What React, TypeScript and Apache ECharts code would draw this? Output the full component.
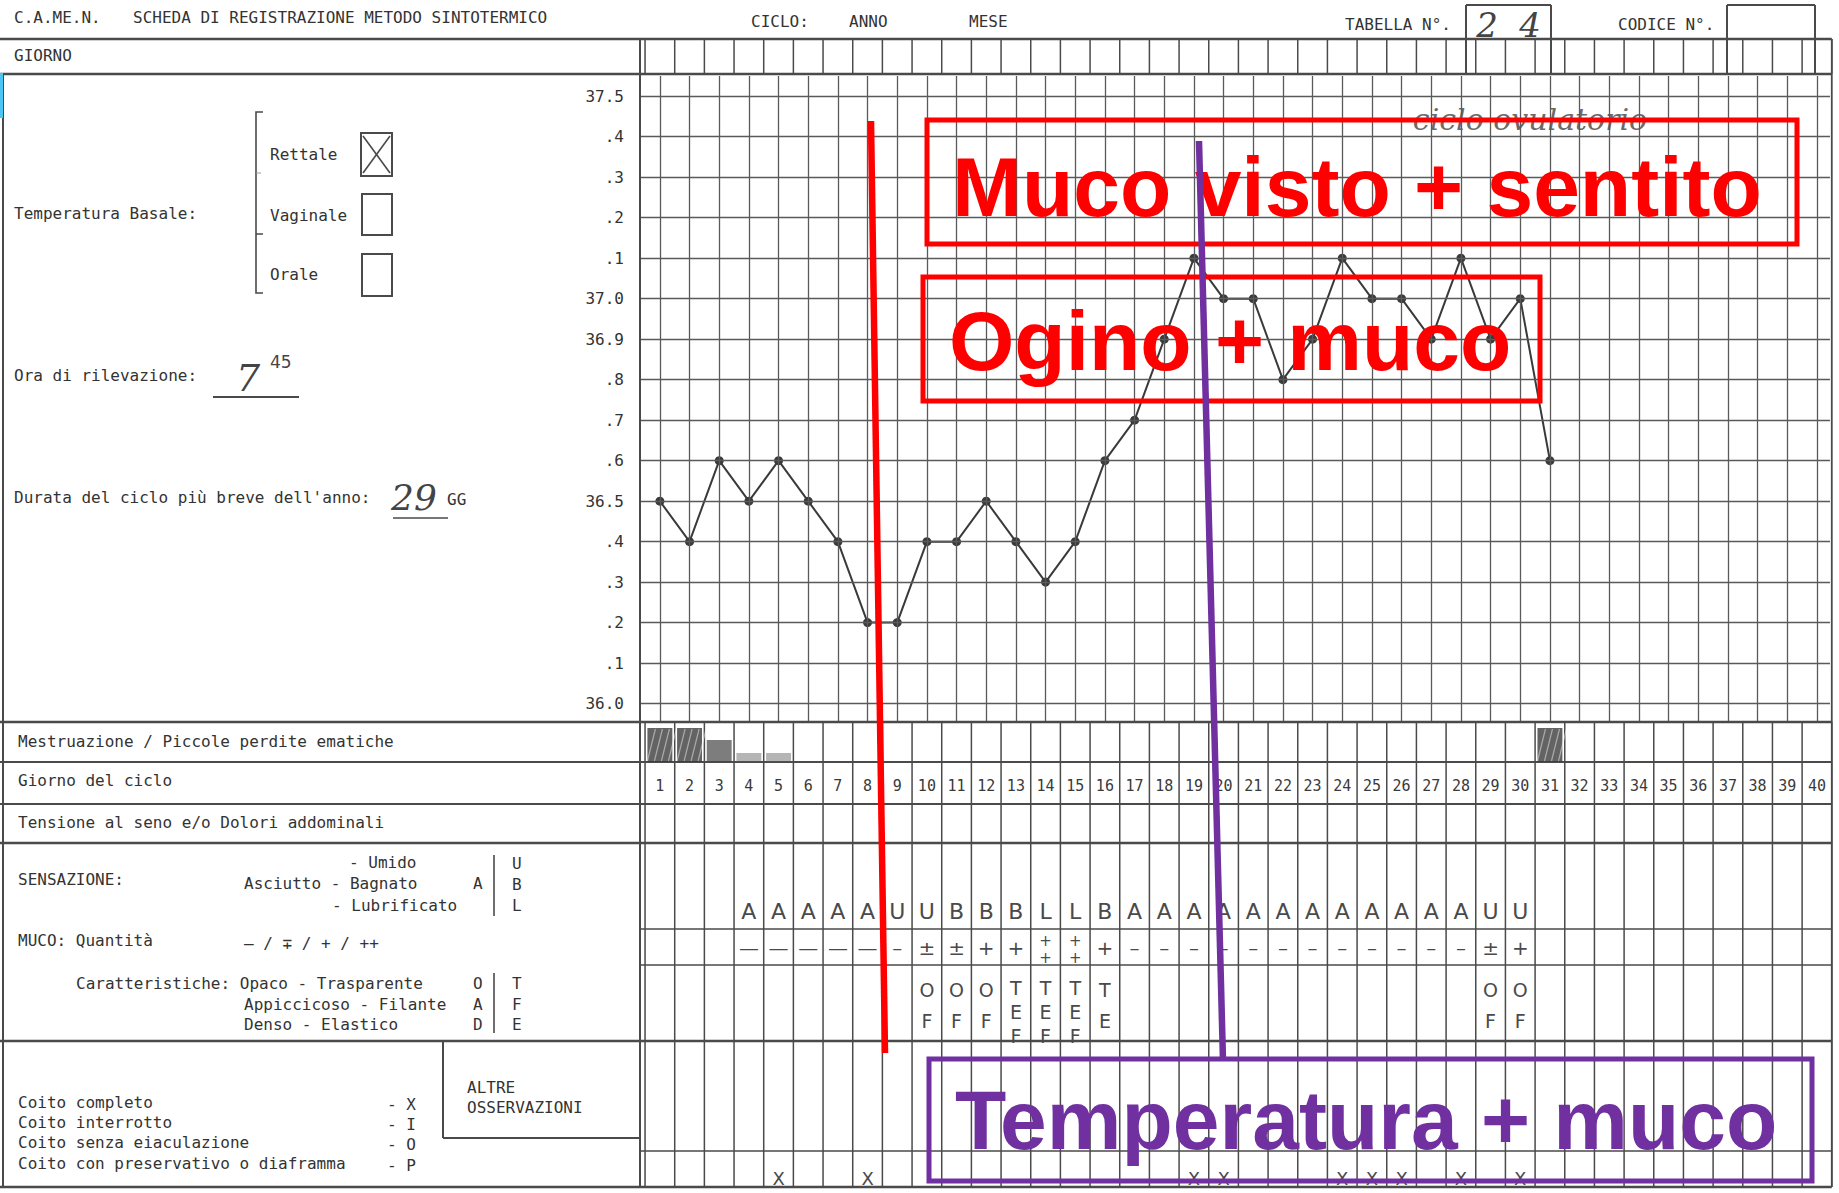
import React, { useEffect, useRef } from "react";
import * as echarts from "echarts";

// ---------- DATA ----------
const days = [1, 2, 3, 4, 5, 6, 7, 8, 9, 10, 11, 12, 13, 14, 15, 16, 17, 18, 19, 20,
  21, 22, 23, 24, 25, 26, 27, 28, 29, 30, 31, 32, 33, 34, 35, 36, 37, 38, 39, 40];

const temperatures = [36.5, 36.4, 36.6, 36.5, 36.6, 36.5, 36.4, 36.2, 36.2, 36.4,
  36.4, 36.5, 36.4, 36.3, 36.4, 36.6, 36.7, 36.9, 37.1, 37.0,
  37.0, 36.8, 36.9, 37.1, 37.0, 37.0, 36.9, 37.1, 36.9, 37.0, 36.6];

const tempTicks = [36.0, 36.1, 36.2, 36.3, 36.4, 36.5, 36.6, 36.7, 36.8, 36.9,
  37.0, 37.1, 37.2, 37.3, 37.4, 37.5];
const tempTickLabels = ["36.0", ".1", ".2", ".3", ".4", "36.5", ".6", ".7", ".8", "36.9",
  "37.0", ".1", ".2", ".3", ".4", "37.5"];

const menstruationDays = [1, 2, 3, 4, 5, 31];
const menstruationLevel = [3, 3, 2, 1, 1, 3];

const sensationDays = [4, 5, 6, 7, 8, 9, 10, 11, 12, 13, 14, 15, 16, 17, 18, 19, 20,
  21, 22, 23, 24, 25, 26, 27, 28, 29, 30];
const sensationValues = ["A", "A", "A", "A", "A", "U", "U", "B", "B", "B", "L", "L", "B",
  "A", "A", "A", "A", "A", "A", "A", "A", "A", "A", "A", "A", "U", "U"];
const quantityValues = ["—", "—", "—", "—", "—", "–", "±", "±", "+", "+", "++", "++", "+",
  "–", "–", "–", "–", "–", "–", "–", "–", "–", "–", "–", "–", "±", "+"];

const characteristicDays = [10, 11, 12, 13, 14, 15, 16, 29, 30];
const characteristicValues = ["OF", "OF", "OF", "TEF", "TEF", "TEF", "TE", "OF", "OF"];

const coitoDays = [5, 8, 19, 20, 24, 25, 26, 28, 30];
const coitoValues = ["X", "X", "X", "X", "X", "X", "X", "X", "X"];

// ---------- STYLE ----------
const MONO = '"DejaVu Sans Mono", monospace';
const SANS = '"DejaVu Sans", sans-serif';
const HAND = '"DejaVu Serif", serif';
const BOLD = '"Liberation Sans", Arial, sans-serif';
const INK = "#333333";
const RULE = "#4a4a4a";
const RED = "#ff0000";
const PURPLE = "#7030a0";

export default function App() {
  const ref = useRef<HTMLDivElement>(null);

  useEffect(() => {
    document.body.style.margin = "0";
    const chart = echarts.init(ref.current as HTMLDivElement, null, { renderer: "svg" });

    chart.setOption({
      animation: false,
      backgroundColor: "#ffffff",
      grid: { left: 640, top: 76, width: 1190, height: 645, show: false },
      xAxis: { type: "value", min: 0.33, max: 40.44, show: false },
      yAxis: { type: "value", min: 35.957, max: 37.55, show: false },
      series: [
        {
          type: "line",
          name: "griglia",
          data: [],
          z: 1,
          silent: true,
          markLine: {
            silent: true,
            symbol: ["none", "none"],
            label: { show: false },
            emphasis: { disabled: true },
            lineStyle: { color: "#5a5a5a", width: 1.3, type: "solid" },
            data: [
              ...tempTicks.map((v) => ({ yAxis: v })),
              ...days.map((d) => ({ xAxis: d })),
            ],
          },
        },
        {
          type: "line",
          name: "Temperatura",
          data: temperatures.map((t, i) => [days[i], t]),
          z: 3,
          symbol: "circle",
          symbolSize: 9,
          lineStyle: { color: "#3a3a3a", width: 2 },
          itemStyle: { color: "#3a3a3a" },
        },
      ],
    });

    const px = (d: number) => (chart.convertToPixel({ gridIndex: 0 }, [d, 36.5]) as number[])[0];
    const py = (v: number) => (chart.convertToPixel({ gridIndex: 0 }, [1, v]) as number[])[1];

    const g: any[] = [];
    const T = (x: number, y: number, text: string, o: any = {}) => {
      const align = o.align ?? "left";
      const valign = o.valign ?? "middle";
      g.push({
        type: "text",
        x,
        y,
        silent: true,
        z: o.z ?? 10,
        style: {
          text,
          fill: o.fill ?? INK,
          fontSize: o.size ?? 16,
          fontFamily: o.family ?? MONO,
          fontWeight: o.weight ?? "normal",
          fontStyle: o.style ?? "normal",
          textAlign: align,
          align,
          textVerticalAlign: valign,
          verticalAlign: valign,
        },
      });
    };
    const L = (x1: number, y1: number, x2: number, y2: number, w = 1.5, c = RULE, z = 6) => {
      g.push({ type: "line", silent: true, z, shape: { x1, y1, x2, y2 }, style: { stroke: c, lineWidth: w } });
    };
    const R = (x: number, y: number, w: number, h: number, stroke: string, lw: number, z = 6, fill = "rgba(0,0,0,0)") => {
      g.push({ type: "rect", silent: true, z, shape: { x, y, width: w, height: h }, style: { fill, stroke, lineWidth: lw } });
    };

    const right = px(40.5);
    const boundaries = [0.5, ...days.map((d) => d + 0.5)];

    // ---------- header ----------
    T(14, 17, "C.A.ME.N.");
    T(133, 17, "SCHEDA DI REGISTRAZIONE METODO SINTOTERMICO");
    T(751, 21, "CICLO:");
    T(849, 21, "ANNO");
    T(969, 21, "MESE");
    T(1345, 24, "TABELLA N°.");
    T(1618, 24, "CODICE N°.");
    L(1466, 5, 1551, 5, 2);
    L(1466, 5, 1466, 74, 2);
    L(1551, 5, 1551, 74, 2);
    T(1487, 25, "2", { family: HAND, style: "italic", size: 34, fill: "#444", align: "center" });
    T(1530, 25, "4", { family: HAND, style: "italic", size: 34, fill: "#444", align: "center" });
    L(1727, 5, 1815, 5, 2);
    L(1727, 5, 1727, 74, 2);
    L(1815, 5, 1815, 74, 2);

    L(0, 39, right, 39, 2.5);
    T(14, 55, "GIORNO");
    L(0, 74, right, 74, 2.5);
    boundaries.forEach((b) => L(px(b), 39, px(b), 74, 1.5));
    L(640, 39, 640, 1187, 2);
    L(right, 39, right, 1187, 1.8);
    L(3, 74, 3, 1187, 2);
    g.push({ type: "rect", silent: true, z: 7, shape: { x: 0, y: 73, width: 3, height: 45 }, style: { fill: "#4cc4f4" } });

    // ---------- y labels of temperature grid ----------
    tempTicks.forEach((v, i) => T(624, py(v), tempTickLabels[i], { align: "right" }));

    // ---------- left panel ----------
    T(14, 213, "Temperatura Basale:");
    g.push({ type: "polyline", silent: true, z: 6, shape: { points: [[263, 112], [256, 112], [256, 293], [263, 293]] }, style: { stroke: RULE, lineWidth: 1.6, fill: "rgba(0,0,0,0)" } });
    L(256, 234, 263, 234, 1.5);
    L(256, 173, 261, 173, 1, "#999");
    T(270, 154, "Rettale");
    R(361, 133, 31, 43, RULE, 2);
    L(363, 136, 390, 173, 1.6);
    L(390, 136, 363, 173, 1.6);
    T(270, 215, "Vaginale");
    R(362, 194, 30, 41, RULE, 2);
    T(270, 274, "Orale");
    R(362, 254, 30, 42, RULE, 2);

    T(14, 375, "Ora di rilevazione:");
    T(248, 378, "7", { family: HAND, style: "italic", size: 38, fill: "#444", align: "center" });
    T(270, 362, "45", { family: SANS, size: 17, fill: "#444" });
    L(213, 397, 299, 397, 1.8);

    T(14, 497, "Durata del ciclo più breve dell'anno:");
    T(414, 497, "29", { family: HAND, style: "italic", size: 36, fill: "#444", align: "center" });
    T(447, 499, "GG");
    L(393, 518, 448, 518, 1.6);

    // ---------- lower rows (labels) ----------
    L(0, 722, right, 722, 2.5);
    T(18, 741, "Mestruazione / Piccole perdite ematiche");
    L(0, 762, right, 762, 2);
    T(18, 780, "Giorno del ciclo");
    L(0, 804, right, 804, 2);
    T(18, 822, "Tensione al seno e/o Dolori addominali");
    L(0, 843, right, 843, 2.5);

    T(18, 879, "SENSAZIONE:");
    T(349, 862, "- Umido");
    T(244, 883, "Asciutto - Bagnato");
    T(332, 905, "- Lubrificato");
    T(473, 883, "A");
    L(494, 855, 494, 916, 1.6);
    T(512, 863, "U");
    T(512, 884, "B");
    T(512, 905, "L");

    T(18, 940, "MUCO: Quantità");
    T(244, 943, "— / ∓ / + / ++");

    T(76, 983, "Caratteristiche: Opaco - Trasparente");
    T(244, 1004, "Appiccicoso - Filante");
    T(244, 1024, "Denso - Elastico");
    T(473, 983, "O");
    T(473, 1004, "A");
    T(473, 1024, "D");
    L(494, 973, 494, 1033, 1.6);
    T(512, 983, "T");
    T(512, 1004, "F");
    T(512, 1024, "E");

    L(0, 1041, right, 1041, 2.5);
    L(443, 1041, 443, 1138, 2);
    L(443, 1138, 640, 1138, 2);
    T(467, 1087, "ALTRE");
    T(467, 1107, "OSSERVAZIONI");
    T(18, 1102, "Coito completo");
    T(18, 1122, "Coito interrotto");
    T(18, 1142, "Coito senza eiaculazione");
    T(18, 1163, "Coito con preservativo o diaframma");
    T(387, 1104, "- X");
    T(387, 1124, "- I");
    T(387, 1144, "- O");
    T(387, 1165, "- P");
    L(0, 1187, right, 1187, 2.5);

    // ---------- lower table (days) ----------
    boundaries.forEach((b) => L(px(b), 722, px(b), 1187, 1.5));
    L(640, 929, right, 929, 1.6);
    L(640, 965, right, 965, 1.6);
    L(640, 1151, right, 1151, 1.6);

    menstruationDays.forEach((d, i) => {
      const lvl = menstruationLevel[i];
      const x0 = px(d - 0.42);
      const w = px(d + 0.42) - x0;
      if (lvl === 3) {
        R(x0, 728, w, 34, "rgba(0,0,0,0)", 0, 7, "rgba(60,60,60,0.8)");
        for (let k = 0; k < 4; k++) L(x0 + k * 7, 761, x0 + k * 7 + 8, 729, 1.2, "rgba(255,255,255,0.45)", 8);
      } else if (lvl === 2) {
        R(x0, 740, w, 22, "rgba(0,0,0,0)", 0, 7, "rgba(70,70,70,0.7)");
      } else {
        R(x0, 753, w, 9, "rgba(0,0,0,0)", 0, 7, "rgba(90,90,90,0.45)");
      }
    });

    days.forEach((d) => T(px(d), 786, String(d), { align: "center", size: 15, fill: "#3a3a3a" }));

    sensationDays.forEach((d, i) => {
      T(px(d), 911, sensationValues[i], { align: "center", family: SANS, size: 22, fill: "#4a4a4a" });
      const q = quantityValues[i];
      if (q === "++") {
        T(px(d), 941, "+", { align: "center", family: SANS, size: 15, fill: "#4a4a4a" });
        T(px(d), 958, "+", { align: "center", family: SANS, size: 15, fill: "#4a4a4a" });
      } else {
        T(px(d), 948, q, { align: "center", family: SANS, size: 20, fill: "#4a4a4a" });
      }
    });

    characteristicDays.forEach((d, i) => {
      const letters = characteristicValues[i].split("");
      const ys = letters.length === 3 ? [988, 1012, 1036] : [990, 1021];
      letters.forEach((ch, j) => T(px(d), ys[j], ch, { align: "center", family: SANS, size: 19, fill: "#4a4a4a" }));
    });

    coitoDays.forEach((d, i) => T(px(d), 1178, coitoValues[i], { align: "center", family: SANS, size: 18, fill: "#4a4a4a" }));

    // handwritten note
    T(1530, 119, "ciclo ovulatorio", { family: HAND, style: "italic", size: 30, fill: "#6a6a6a", align: "center", z: 4 });

    // ---------- annotations ----------
    const AN = 50;
    L(871, 121, 885, 1053, 6.5, RED, AN);
    R(927, 120, 870, 124, RED, 5, AN);
    T(952, 187, "Muco visto + sentito", { family: BOLD, weight: "bold", size: 84, fill: RED, z: AN });
    R(923, 277, 617, 124, RED, 5, AN);
    T(949, 341, "Ogino + muco", { family: BOLD, weight: "bold", size: 84, fill: RED, z: AN });
    L(1199, 141, 1223, 1061, 6.5, PURPLE, AN + 1);
    R(929, 1059, 883, 122, PURPLE, 5, AN);
    T(955, 1120, "Temperatura + muco", { family: BOLD, weight: "bold", size: 84, fill: PURPLE, z: AN });

    chart.setOption({ graphic: { elements: g } });

    return () => {
      chart.dispose();
    };
  }, []);

  return <div ref={ref} style={{ width: 1839, height: 1193, background: "#ffffff" }} />;
}
